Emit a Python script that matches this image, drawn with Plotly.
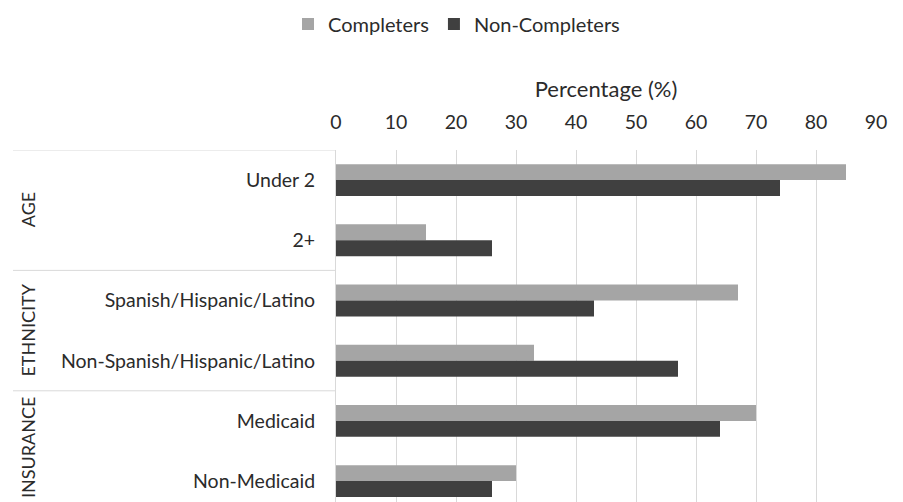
import plotly.graph_objects as go

categories = ["Under 2", "2+", "Spanish/Hispanic/Latino", "Non-Spanish/Hispanic/Latino", "Medicaid", "Non-Medicaid"]
completers = [85, 15, 67, 33, 70, 30]
non_completers = [74, 26, 43, 57, 64, 26]
groups = ["AGE", "ETHNICITY", "INSURANCE"]
x_ticks = [0, 10, 20, 30, 40, 50, 60, 70, 80, 90]

FONT = "Lato"
TXT = "#2B2B2B"
FS = 19.5

pos = list(range(len(categories)))

fig = go.Figure()
fig.add_trace(go.Bar(y=pos, x=completers, orientation="h", name="Completers",
                     marker=dict(color="#A5A5A5", line=dict(width=0))))
fig.add_trace(go.Bar(y=pos, x=non_completers, orientation="h", name="Non-Completers",
                     marker=dict(color="#404040", line=dict(width=0))))

L, R, T = 336, 27, 150
W, H = 903, 502
pw = W - L - R
ph = H - T
cat_px = 60.2
y_bottom = -0.5 + ph / cat_px

def px_to_paper_x(px):
    return (px - L) / pw

shapes = []
for yv in [-0.5, 1.5, 3.5]:
    shapes.append(dict(type="line", xref="paper", yref="y",
                       x0=px_to_paper_x(13), x1=0, y0=yv, y1=yv,
                       line=dict(color="#D9D9D9", width=1), layer="below"))

annotations = []
group_centers = [0.5, 2.5, 4.45]
for g, yc in zip(groups, group_centers):
    annotations.append(dict(text=g, xref="paper", yref="y", x=px_to_paper_x(28), y=yc,
                            textangle=-90, showarrow=False, xanchor="center", yanchor="middle",
                            font=dict(family=FONT, size=18, color=TXT)))

fig.update_layout(
    width=W, height=H,
    margin=dict(l=L, r=R, t=T, b=0, pad=0),
    plot_bgcolor="white", paper_bgcolor="white",
    barmode="group", bargap=0.47, bargroupgap=0,
    font=dict(family=FONT, size=FS, color=TXT),
    legend=dict(orientation="h", x=px_to_paper_x(288), xanchor="left",
                y=1 + (T - 24) / ph, yanchor="middle",
                font=dict(family=FONT, size=20, color=TXT), traceorder="normal"),
    xaxis=dict(side="top", range=[0, 90], tickvals=x_ticks, ticktext=[str(v) for v in x_ticks],
               showgrid=True, gridcolor="#D9D9D9", gridwidth=1, zeroline=False,
               showline=False, ticks="", ticklabelstandoff=16,
               title=dict(text="Percentage (%)", standoff=6,
                          font=dict(family=FONT, size=22, color=TXT))),
    yaxis=dict(tickvals=pos, ticktext=categories, range=[y_bottom, -0.5],
               showgrid=False, zeroline=False, showline=True, linecolor="#D9D9D9", linewidth=1,
               ticks="", ticklabelstandoff=16),
    shapes=shapes, annotations=annotations,
)

fig.write_html("out.html")
